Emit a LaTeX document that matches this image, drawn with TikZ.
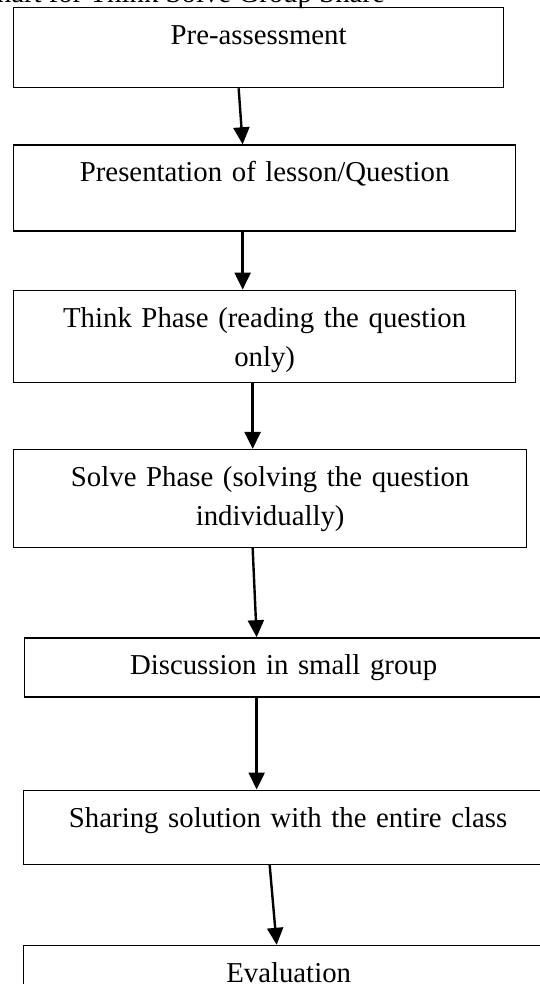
\documentclass[tikz,border=0pt]{standalone}
\usepackage{fontspec}
\setmainfont{Liberation Serif}
\usetikzlibrary{arrows.meta,positioning}
\tikzstyle{stepbox} = [rectangle, draw=black, line width=1.3pt, inner sep=0pt, text height=37pt, align=center, anchor=north west, font=\fontsize{28.8pt}{39pt}\selectfont]
\tikzstyle{arrow} = [line width=2.4pt, -{Triangle[width=16pt,length=17pt]}]

\begin{document}
\begin{tikzpicture}
\useasboundingbox (0,0) rectangle (539pt,-984pt);

\node (title) [anchor=base east, inner sep=0pt, font=\fontsize{28.8pt}{39pt}\selectfont] at (385pt,-3pt) {Flowchart for Think Solve Group Share};

\node (pre) [stepbox, text width=490pt, text depth=43pt] at (13pt,-7pt) {Pre-assessment};

\node (pres) [stepbox, below=56pt of pre.south west, anchor=north west, text width=502pt, text depth=49pt] {Presentation of lesson/Question};
\draw [arrow] ([xshift=-20pt]pre.south) -- ([xshift=-22pt]pres.north);

\node (think) [stepbox, below=58pt of pres.south west, anchor=north west, text width=502pt, text depth=55pt] {Think Phase (reading the question\\ only)};
\draw [arrow] ([xshift=-22pt]pres.south) -- ([xshift=-22pt]think.north);

\node (solve) [stepbox, below=66pt of think.south west, anchor=north west, text width=513pt, text depth=61pt] {Solve Phase (solving the question\\ individually)};
\draw [arrow] ([xshift=-12pt]think.south) -- ([xshift=-17.5pt]solve.north);

\node (disc) [stepbox, below=89pt of solve.south west, anchor=north west, xshift=11pt, text width=518pt, text depth=22pt] {Discussion in small group};
\draw [arrow] ([xshift=-17.5pt]solve.south) -- ([xshift=-27pt]disc.north);

\node (share) [stepbox, below=92pt of disc.south west, anchor=north west, xshift=-1pt, text width=529pt, text depth=37pt] {Sharing solution with the entire class};
\draw [arrow] ([xshift=-27pt]disc.south) -- ([xshift=-31.5pt]share.north);

\node (eval) [stepbox, below=80pt of share.south west, anchor=north west, text width=530pt, text depth=50pt] {Evaluation};
\draw [arrow] ([xshift=-18.5pt]share.south) -- ([xshift=-12pt]eval.north);

\end{tikzpicture}
\end{document}
